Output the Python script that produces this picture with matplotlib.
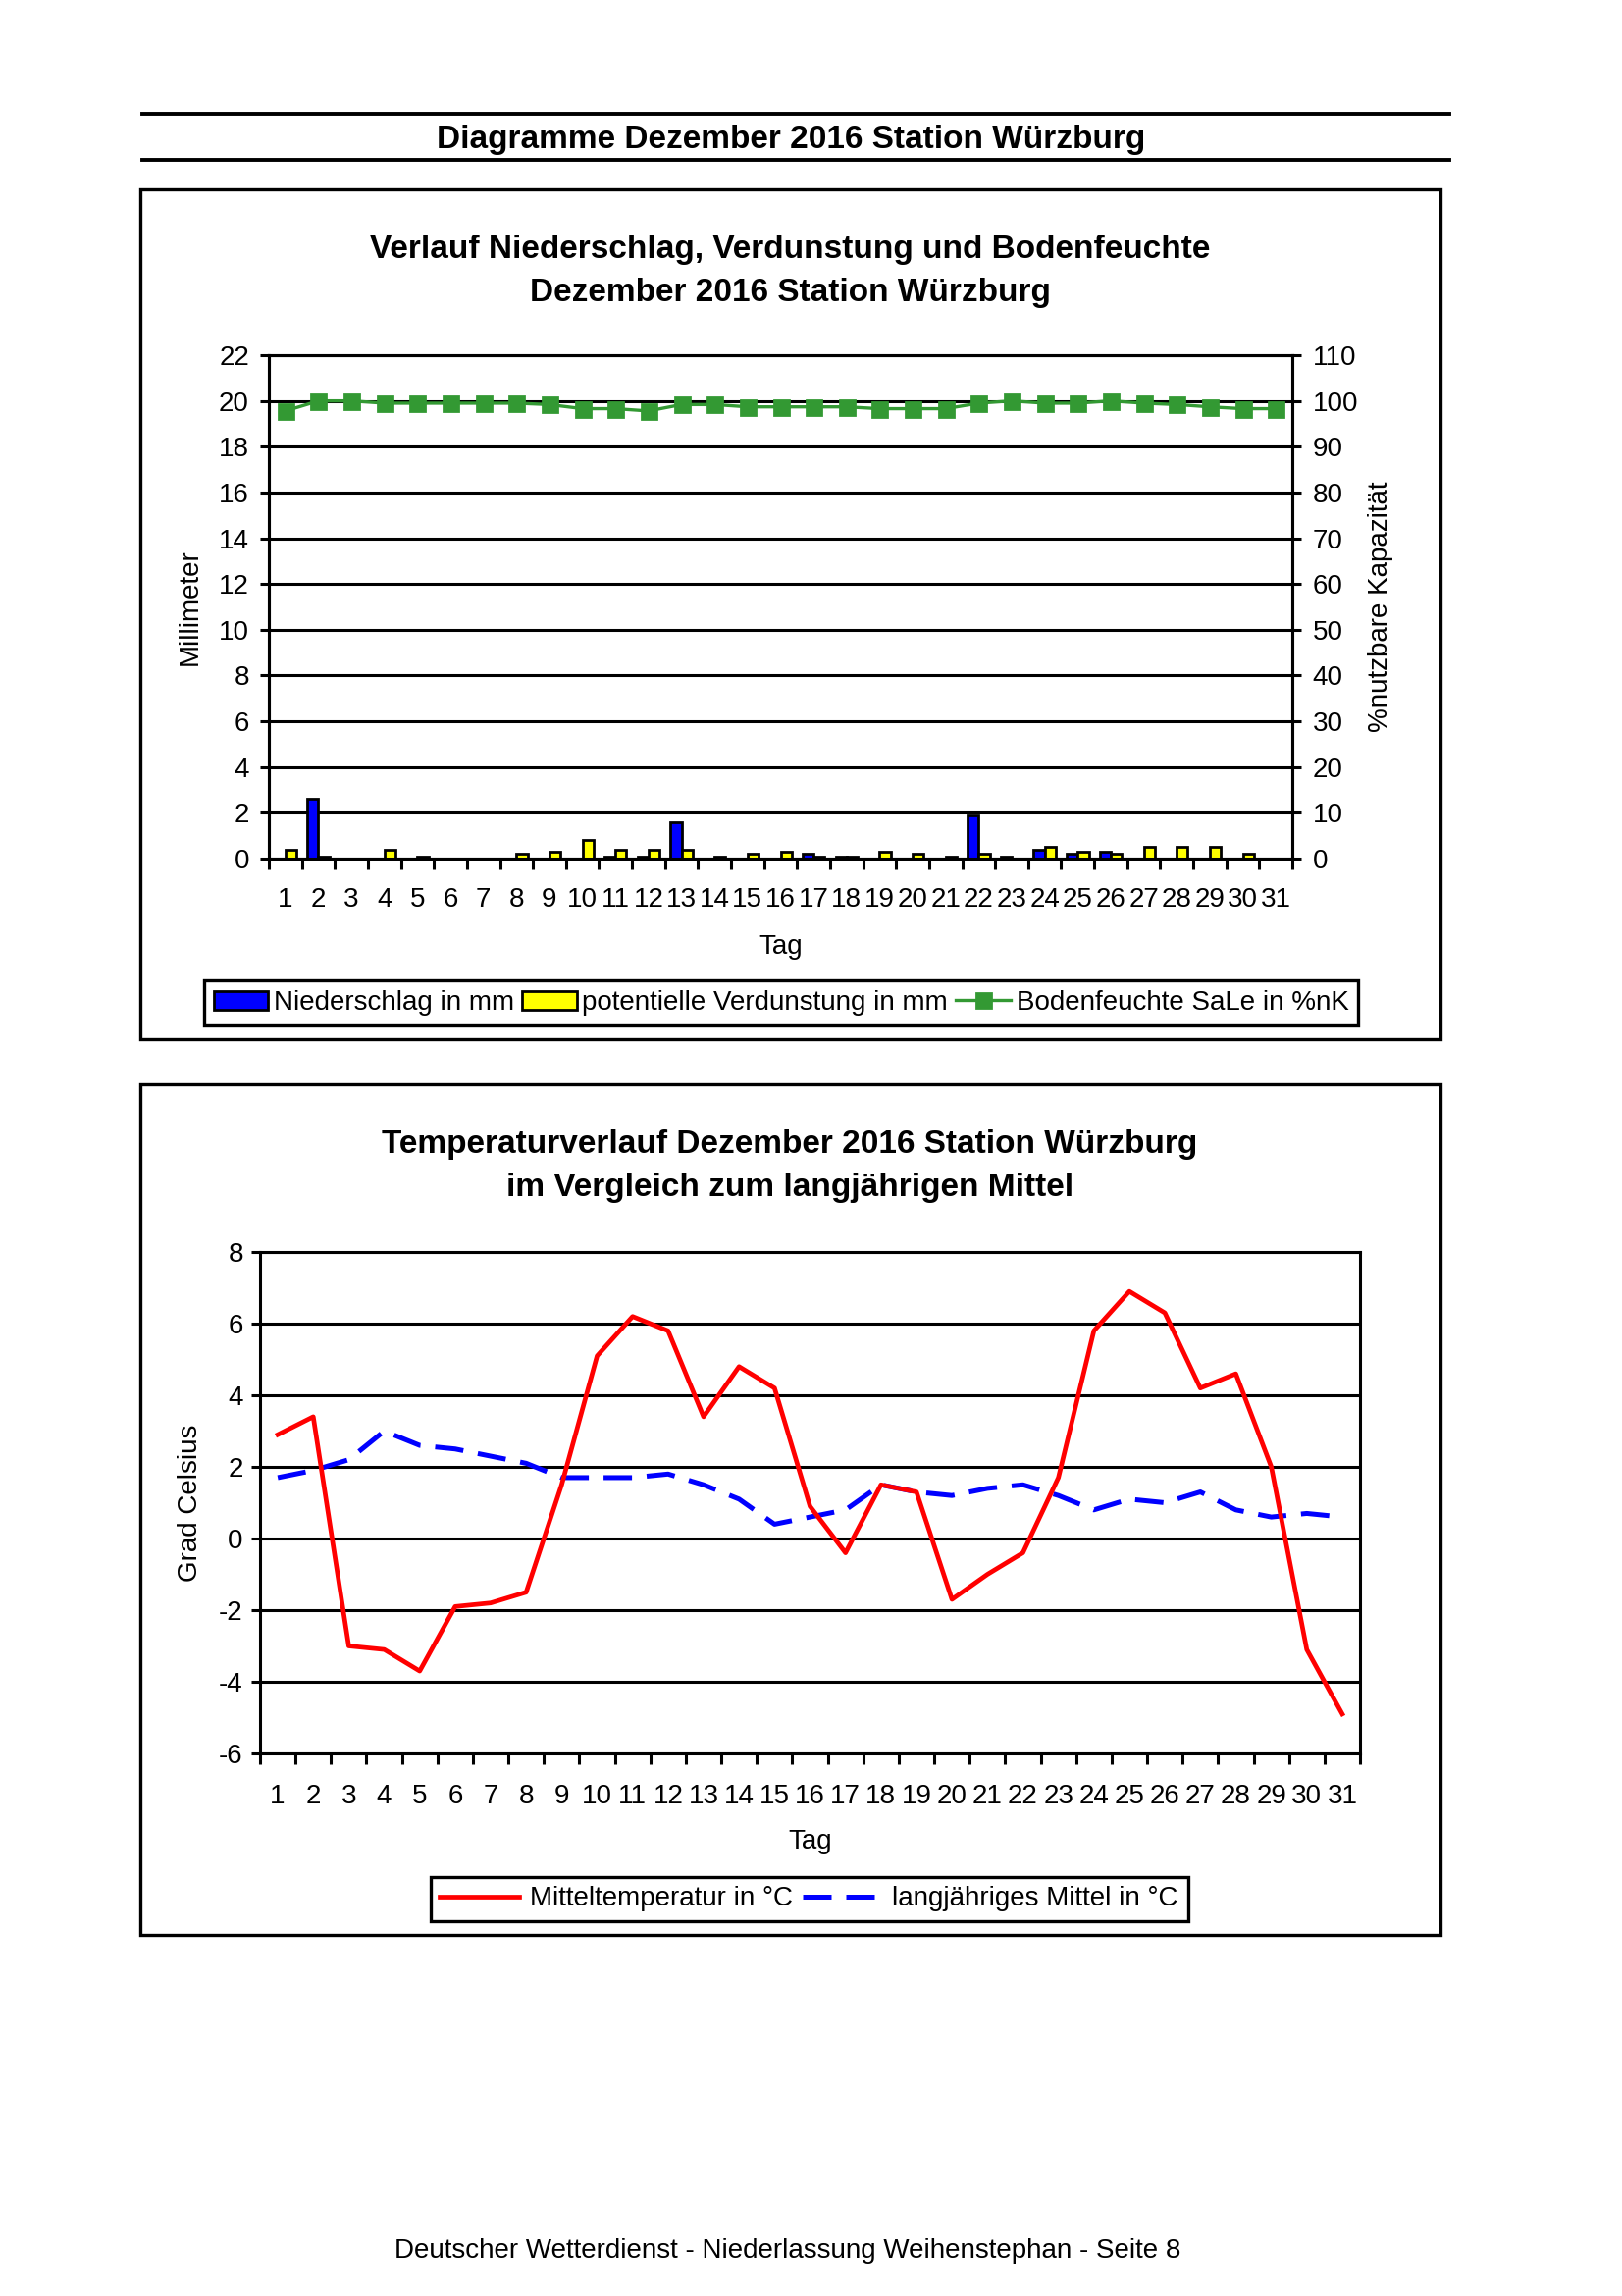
import matplotlib
matplotlib.use('Agg')
import matplotlib.pyplot as plt
import numpy as np
from matplotlib.patches import Rectangle, Patch
from matplotlib.lines import Line2D

plt.rcParams['font.family'] = ['Liberation Sans', 'DejaVu Sans']
plt.rcParams['axes.unicode_minus'] = False

# ---------------- data ----------------
days = list(range(1, 32))
niederschlag = [0, 2.6, 0, 0, 0, 0, 0, 0, 0, 0, 0.1, 0.1, 1.6, 0, 0, 0, 0.2, 0.1, 0, 0,
                0, 1.9, 0.1, 0.4, 0.2, 0.3, 0, 0, 0, 0, 0]
verdunstung = [0.4, 0.1, 0, 0.4, 0.1, 0, 0, 0.2, 0.3, 0.8, 0.4, 0.4, 0.4, 0.1, 0.2, 0.3, 0.1, 0.1,
               0.3, 0.2, 0.1, 0.2, 0, 0.5, 0.3, 0.2, 0.5, 0.5, 0.5, 0.2, 0]
bodenfeuchte = [97.8, 100.0, 100.0, 99.5, 99.5, 99.5, 99.5, 99.5, 99.2, 98.3, 98.3, 97.8, 99.2, 99.2,
                98.7, 98.7, 98.7, 98.7, 98.3, 98.3, 98.3, 99.5, 100.0, 99.5, 99.5, 100.0, 99.5,
                99.2, 98.7, 98.3, 98.3]
mitteltemp = [2.9, 3.4, -3.0, -3.1, -3.7, -1.9, -1.8, -1.5, 1.5, 5.1, 6.2, 5.8, 3.4, 4.8, 4.2, 0.9,
              -0.4, 1.5, 1.3, -1.7, -1.0, -0.4, 1.7, 5.8, 6.9, 6.3, 4.2, 4.6, 2.0, -3.1, -4.9]
langj_mittel = [1.7, 1.9, 2.2, 3.0, 2.6, 2.5, 2.3, 2.1, 1.7, 1.7, 1.7, 1.8, 1.5, 1.1, 0.4, 0.6,
                0.8, 1.5, 1.3, 1.2, 1.4, 1.5, 1.2, 0.8, 1.1, 1.0, 1.3, 0.8, 0.6, 0.7, 0.6]

mm_ticks = list(range(0, 23, 2))
pct_ticks = list(range(0, 111, 10))
temp_ticks = list(range(-6, 9, 2))

header = 'Diagramme Dezember 2016 Station Würzburg'
title1 = ['Verlauf Niederschlag, Verdunstung und Bodenfeuchte', 'Dezember 2016 Station Würzburg']
title2 = ['Temperaturverlauf Dezember 2016 Station Würzburg', 'im Vergleich zum langjährigen Mittel']
footer = 'Deutscher Wetterdienst - Niederlassung Weihenstephan - Seite 8'

# ---------------- layout ----------------
W, H = 1653, 2340
DPI = 200
fig = plt.figure(figsize=(W / DPI, H / DPI), dpi=DPI)
fig.patch.set_facecolor('white')


def fx(px):
    return px / W


def fy(py):
    return 1 - py / H


def axrect(l, t, r, b):
    return [l / W, 1 - b / H, (r - l) / W, (b - t) / H]


BLUE = '#0000FF'
YELLOW = '#FFFF00'
GREEN = '#339933'
RED = '#FF0000'
LW = 1.1

# header
for y in (116, 163):
    fig.add_artist(Line2D([fx(145), fx(1477)], [fy(y), fy(y)], color='black', lw=1.4))
fig.text(fx(806), fy(143), header, ha='center', va='center', fontsize=12, fontweight='bold')

# boxes
for (t, b) in ((193, 1059), (1105, 1972)):
    fig.add_artist(Rectangle((fx(143), fy(b)), fx(1468) - fx(143), fy(t) - fy(b),
                             fill=False, edgecolor='black', lw=1.2))

# titles
fig.text(fx(805), fy(254), title1[0], ha='center', va='center', fontsize=12, fontweight='bold')
fig.text(fx(805), fy(298), title1[1], ha='center', va='center', fontsize=12, fontweight='bold')
fig.text(fx(805), fy(1167), title2[0], ha='center', va='center', fontsize=12, fontweight='bold')
fig.text(fx(805), fy(1210), title2[1], ha='center', va='center', fontsize=12, fontweight='bold')

x = np.array(days, dtype=float)
bw = 1 / 3


def style_x(ax, pad):
    ax.set_xlim(0.5, 31.5)
    ax.set_xticks(days)
    ax.set_xticklabels([str(d) for d in days])
    ax.set_xticks(np.arange(0.5, 32.0, 1.0), minor=True)
    ax.tick_params(axis='x', which='major', length=0, labelsize=10, pad=pad)
    ax.tick_params(axis='x', which='minor', length=4, width=LW, direction='out')


# ---------------- upper chart ----------------
ax1 = fig.add_axes(axrect(274, 362, 1317, 875))
ax1.bar(x - bw / 2, niederschlag, width=bw, color=BLUE, edgecolor='black', lw=1.0, zorder=3)
ax1.bar(x + bw / 2, verdunstung, width=bw, color=YELLOW, edgecolor='black', lw=1.0, zorder=3)
ax1.set_ylim(0, 22)
ax1.set_yticks(mm_ticks)
ax1.grid(axis='y', color='black', lw=LW, zorder=1)
ax1.tick_params(axis='y', length=3.2, width=LW, direction='out', labelsize=10, pad=4)
style_x(ax1, 10.6)
for s in ax1.spines.values():
    s.set_linewidth(LW)
ax1.set_xlabel('Tag', fontsize=10, va='center')
ax1.xaxis.set_label_coords(0.5, -(965 - 875) / (875 - 362))
ax1.set_ylabel('Millimeter', fontsize=10, va='center')
ax1.yaxis.set_label_coords((194 - 274) / (1317 - 274), 0.5)

ax2 = ax1.twinx()
ax2.plot(days, bodenfeuchte, color=GREEN, lw=1.2, marker='s', ms=5.4, zorder=4)
ax2.set_ylim(0, 110)
ax2.set_yticks(pct_ticks)
ax2.tick_params(axis='y', length=3.2, width=LW, direction='out', labelsize=10, pad=4.3)
for s in ax2.spines.values():
    s.set_linewidth(LW)
ax2.set_ylabel('%nutzbare Kapazität', fontsize=10, va='center', rotation=90)
ax2.yaxis.set_label_coords((1407 - 274) / (1317 - 274), 0.5)

h1 = [Patch(facecolor=BLUE, edgecolor='black', lw=1.0),
      Patch(facecolor=YELLOW, edgecolor='black', lw=1.0),
      Line2D([], [], color=GREEN, lw=1.2, marker='s', ms=5.4)]
l1 = ['Niederschlag in mm', 'potentielle Verdunstung in mm', 'Bodenfeuchte SaLe in %nK']
leg1 = fig.legend(h1, l1, loc='center', bbox_to_anchor=(fx(796), fy(1022)), ncol=3,
                  frameon=True, fancybox=False, edgecolor='black', framealpha=1,
                  handlelength=2.0, handletextpad=0.2, columnspacing=0.3,
                  borderpad=0.35, borderaxespad=0, fontsize=10, numpoints=1)
leg1.get_frame().set_linewidth(1.2)

# ---------------- lower chart ----------------
ax3 = fig.add_axes(axrect(265, 1276, 1386, 1787))
ax3.plot(days, mitteltemp, color=RED, lw=1.7, zorder=4, label='Mitteltemperatur in °C')
ax3.plot(days, langj_mittel, color=BLUE, lw=1.8, linestyle=(0, (5.8, 3.0)), zorder=3,
         label='langjähriges Mittel in °C')
ax3.set_ylim(-6, 8)
ax3.set_yticks(temp_ticks)
ax3.grid(axis='y', color='black', lw=LW, zorder=1)
ax3.tick_params(axis='y', length=3.2, width=LW, direction='out', labelsize=10, pad=3)
style_x(ax3, 11)
for s in ax3.spines.values():
    s.set_linewidth(LW)
ax3.set_xlabel('Tag', fontsize=10, va='center')
ax3.xaxis.set_label_coords(0.5, -(1877 - 1787) / (1787 - 1276))
ax3.set_ylabel('Grad Celsius', fontsize=10, va='center')
ax3.yaxis.set_label_coords((194 - 265) / (1386 - 265), 0.5)

leg2 = fig.legend(*ax3.get_legend_handles_labels(), loc='center',
                  bbox_to_anchor=(fx(824.5), fy(1935.5)), ncol=2,
                  frameon=True, fancybox=False, edgecolor='black', framealpha=1,
                  handlelength=2.9, handletextpad=0.4, columnspacing=0.35,
                  borderpad=0.35, borderaxespad=0, fontsize=10)
leg2.get_frame().set_linewidth(1.2)

fig.text(fx(803), fy(2294), footer, ha='center', va='center', fontsize=10)

fig.savefig('out.png', dpi=DPI, facecolor='white')
